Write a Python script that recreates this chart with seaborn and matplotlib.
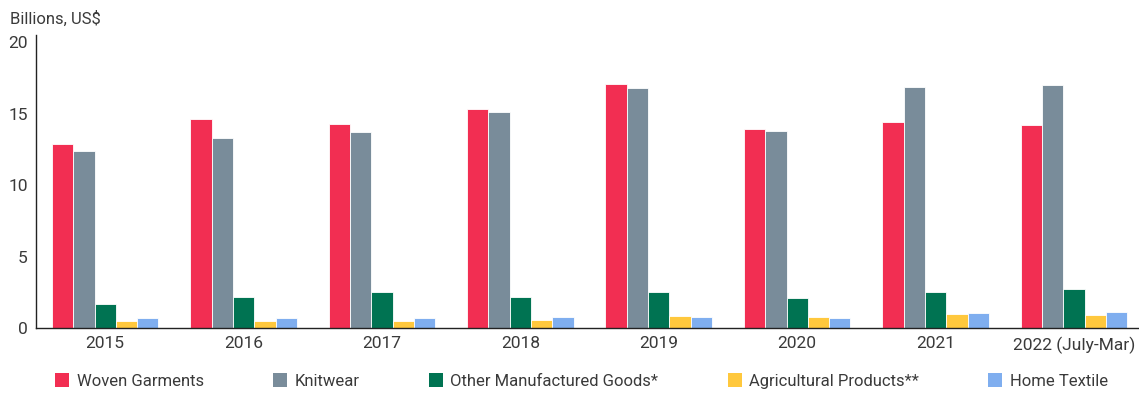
import matplotlib
matplotlib.use("Agg")
import matplotlib.pyplot as plt
import seaborn as sns
import pandas as pd
from matplotlib.patches import Patch

years = ["2015", "2016", "2017", "2018", "2019", "2020", "2021", "2022 (July-Mar)"]
categories = ["Woven Garments", "Knitwear", "Other Manufactured Goods*",
              "Agricultural Products**", "Home Textile"]
woven = [12.9, 14.6, 14.3, 15.3, 17.1, 13.95, 14.4, 14.2]
knitwear = [12.35, 13.3, 13.7, 15.1, 16.8, 13.8, 16.85, 17.0]
other_goods = [1.7, 2.2, 2.5, 2.2, 2.55, 2.1, 2.5, 2.7]
agricultural = [0.5, 0.5, 0.5, 0.55, 0.85, 0.75, 0.95, 0.9]
home_textile = [0.7, 0.7, 0.7, 0.75, 0.75, 0.7, 1.05, 1.1]
colors = ["#F22E52", "#798C9A", "#007352", "#FFC83D", "#7FAEEF"]

series = [woven, knitwear, other_goods, agricultural, home_textile]
df = pd.DataFrame(
    [(y, c, v) for c, vals in zip(categories, series) for y, v in zip(years, vals)],
    columns=["year", "category", "value"],
)

sns.set_theme(style="white")
plt.rcParams["font.family"] = ["Roboto", "DejaVu Sans"]
text_color = "#3a3a3a"
fs = 12

fig = plt.figure(figsize=(11.39, 3.94), dpi=100)
ax = fig.add_axes([36 / 1139, (394 - 328) / 394, (1139 - 36) / 1139, (328 - 35) / 394])

sns.barplot(data=df, x="year", y="value", hue="category", hue_order=categories,
            palette=colors, saturation=1, width=0.77, edgecolor="white",
            linewidth=0.6, legend=False, ax=ax)

ax.set_ylim(0, 20.5)
ax.set_xlim(-0.5, 7.47)
ax.set_yticks([0, 5, 10, 15, 20])
ax.set_xlabel("")
ax.set_ylabel("")
for s in ["top", "right"]:
    ax.spines[s].set_visible(False)
for s in ["left", "bottom"]:
    ax.spines[s].set_color("#222222")
    ax.spines[s].set_linewidth(1.0)
ax.tick_params(axis="both", length=0, labelsize=fs + 0.5, colors=text_color)
ax.tick_params(axis="y", pad=6)
ax.tick_params(axis="x", pad=6)

fig.text(10 / 1139, 1 - 19 / 394, "Billions, US$", fontsize=fs, color=text_color,
         va="center", ha="left")

handles = [Patch(facecolor=c, edgecolor="none") for c in colors]
leg = fig.legend(handles, categories, loc="center left", bbox_to_anchor=(55 / 1139, 1 - 381 / 394),
                 ncol=5, frameon=False, fontsize=fs, handlelength=0.85, handleheight=0.85,
                 handletextpad=0.45, columnspacing=4.15, labelcolor=text_color,
                 borderaxespad=0, borderpad=0)

fig.savefig("out.png", dpi=100)
